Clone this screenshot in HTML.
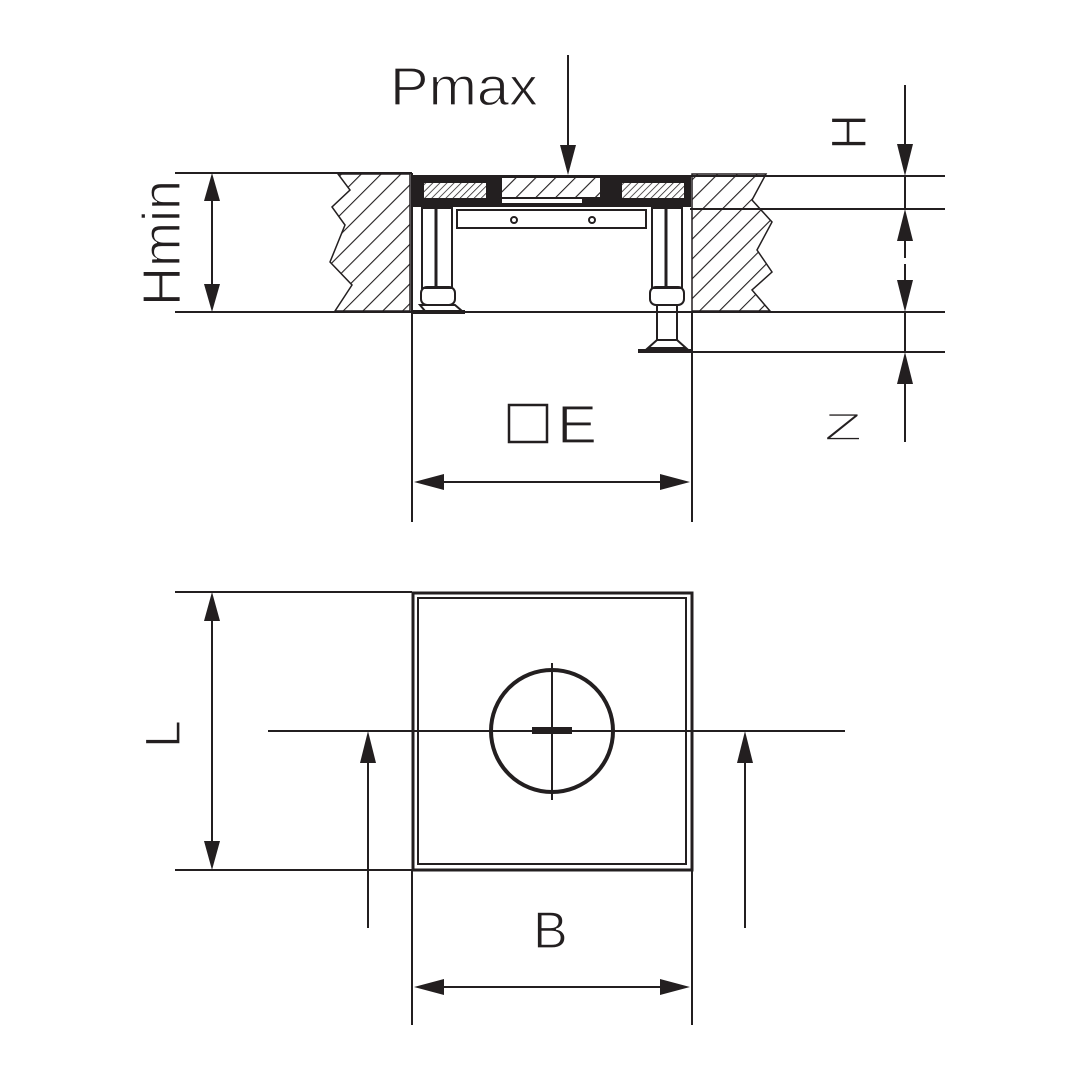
<!DOCTYPE html>
<html><head><style>html,body{margin:0;padding:0;background:#fff}svg{display:block}</style></head>
<body>
<svg width="1080" height="1080" viewBox="0 0 1080 1080" xmlns="http://www.w3.org/2000/svg" font-family="Liberation Sans, sans-serif" fill="none" stroke="#231f20">
<defs>
<pattern id="h" width="14" height="14" patternUnits="userSpaceOnUse" patternTransform="rotate(45)">
<line x1="0" y1="0" x2="0" y2="14" stroke="#231f20" stroke-width="2.2"/>
</pattern>
<pattern id="h2" width="5" height="5" patternUnits="userSpaceOnUse" patternTransform="rotate(45)">
<line x1="0" y1="0" x2="0" y2="5" stroke="#231f20" stroke-width="1.5"/>
</pattern>
</defs>
<g stroke-width="2">
<line x1="175" y1="173" x2="412" y2="173"/>
<line x1="690" y1="176" x2="945" y2="176"/>
<line x1="690" y1="209" x2="945" y2="209"/>
<line x1="175" y1="312" x2="945" y2="312"/>
<line x1="690" y1="352" x2="945" y2="352"/>
<line x1="412" y1="173" x2="412" y2="522"/>
<line x1="692" y1="312" x2="692" y2="522"/>
<line x1="568" y1="55" x2="568" y2="150"/>
<line x1="212" y1="200" x2="212" y2="285"/>
<line x1="905" y1="85" x2="905" y2="150"/>
<line x1="905" y1="176" x2="905" y2="209"/>
<line x1="905" y1="235" x2="905" y2="258"/>
<line x1="905" y1="264" x2="905" y2="290"/>
<line x1="905" y1="312" x2="905" y2="352"/>
<line x1="905" y1="380" x2="905" y2="442"/>
<line x1="440" y1="482" x2="664" y2="482"/>
</g>
<g fill="#231f20" stroke="none">
<polygon points="560,145 576,145 568,175"/>
<polygon points="204,201 220,201 212,173"/>
<polygon points="204,284 220,284 212,312"/>
<polygon points="897,144 913,144 905,176"/>
<polygon points="897,241 913,241 905,209"/>
<polygon points="897,280 913,280 905,312"/>
<polygon points="897,384 913,384 905,352"/>
<polygon points="444,474 444,490 414,482"/>
<polygon points="660,474 660,490 690,482"/>
</g>
<path d="M338,174 L410,174 L410,311 L335,311 L352,285 L330,262 L345,225 L332,207 L350,190 Z" fill="url(#h)" stroke="#231f20" stroke-width="1.5"/>
<path d="M692,174 L766,174 L752,200 L772,222 L757,250 L772,272 L752,290 L770,311 L692,311 Z" fill="url(#h)" stroke="#231f20" stroke-width="1.5"/>
<rect x="413" y="175" width="278" height="32" fill="#231f20" stroke="none"/>
<rect x="424" y="183" width="62" height="15" fill="#fff" stroke="none"/>
<rect x="424" y="183" width="62" height="15" fill="url(#h2)" stroke="none"/>
<rect x="502" y="178" width="98" height="19" fill="#fff" stroke="none"/>
<rect x="502" y="178" width="98" height="19" fill="url(#h)" stroke="none"/>
<rect x="622" y="183" width="62" height="15" fill="#fff" stroke="none"/>
<rect x="622" y="183" width="62" height="15" fill="url(#h2)" stroke="none"/>
<rect x="502" y="199" width="80" height="4" fill="#fff" stroke="none"/>
<g stroke-width="2">
<rect x="457" y="210" width="189" height="18" fill="#fff"/>
<circle cx="514" cy="220" r="3"/><circle cx="592" cy="220" r="3"/>
<rect x="422" y="208" width="30" height="80"/>
<line x1="436" y1="208" x2="436" y2="288" stroke-width="3"/>
<rect x="421" y="287" width="34" height="18" rx="6"/>
<path d="M438,305 L455,305 L462,311 L425,311 L420,305 L438,305"/>
<line x1="412" y1="312" x2="465" y2="312" stroke-width="4"/>
<rect x="652" y="208" width="30" height="80"/>
<line x1="666" y1="208" x2="666" y2="288" stroke-width="3"/>
<rect x="650" y="287" width="34" height="18" rx="6"/>
<rect x="657" y="305" width="20" height="35"/>
<path d="M657,340 L648,348 L686,348 L677,340"/>
<line x1="638" y1="351" x2="692" y2="351" stroke-width="4"/>
</g>
<g stroke-width="2">
<line x1="175" y1="592" x2="412" y2="592"/>
<line x1="175" y1="870" x2="412" y2="870"/>
<rect x="413" y="593" width="279" height="277" stroke-width="3"/>
<rect x="418" y="598" width="268" height="266" stroke-width="2"/>
<line x1="268" y1="731" x2="845" y2="731"/>
<circle cx="552" cy="731" r="61" stroke-width="4"/>
<line x1="552" y1="663" x2="552" y2="800"/>
<line x1="212" y1="620" x2="212" y2="842"/>
<line x1="368" y1="760" x2="368" y2="928"/>
<line x1="745" y1="760" x2="745" y2="928"/>
<line x1="412" y1="870" x2="412" y2="1025"/>
<line x1="692" y1="870" x2="692" y2="1025"/>
<line x1="440" y1="987" x2="664" y2="987"/>
</g>
<rect x="532" y="727" width="40" height="7" fill="#231f20" stroke="none"/>
<g fill="#231f20" stroke="none">
<polygon points="204,621 220,621 212,592"/>
<polygon points="204,841 220,841 212,870"/>
<polygon points="360,763 376,763 368,731"/>
<polygon points="737,763 753,763 745,731"/>
<polygon points="444,979 444,995 414,987"/>
<polygon points="660,979 660,995 690,987"/>
</g>
<g fill="#231f20" stroke="#fff" stroke-width="1.2" font-size="54">
<text x="390" y="105" textLength="148" lengthAdjust="spacingAndGlyphs">Pmax</text>
<text x="0" y="0" transform="translate(180,306) rotate(-90)" textLength="126" lengthAdjust="spacingAndGlyphs">Hmin</text>
<text x="0" y="0" transform="translate(866,150) rotate(-90)" font-size="50">H</text>
<text x="557" y="443" font-size="54" textLength="40" lengthAdjust="spacingAndGlyphs">E</text>
<text x="0" y="0" transform="translate(180,748) rotate(-90)" font-size="50">L</text>
<text x="533" y="948" font-size="52">B</text>
<text x="0" y="0" transform="translate(824,440) scale(1.3,0.8)" font-size="48" stroke-width="1.8">Z</text>
</g>
<rect x="509" y="405" width="38" height="37" fill="none" stroke="#231f20" stroke-width="2.5"/>
</svg>
</body></html>
